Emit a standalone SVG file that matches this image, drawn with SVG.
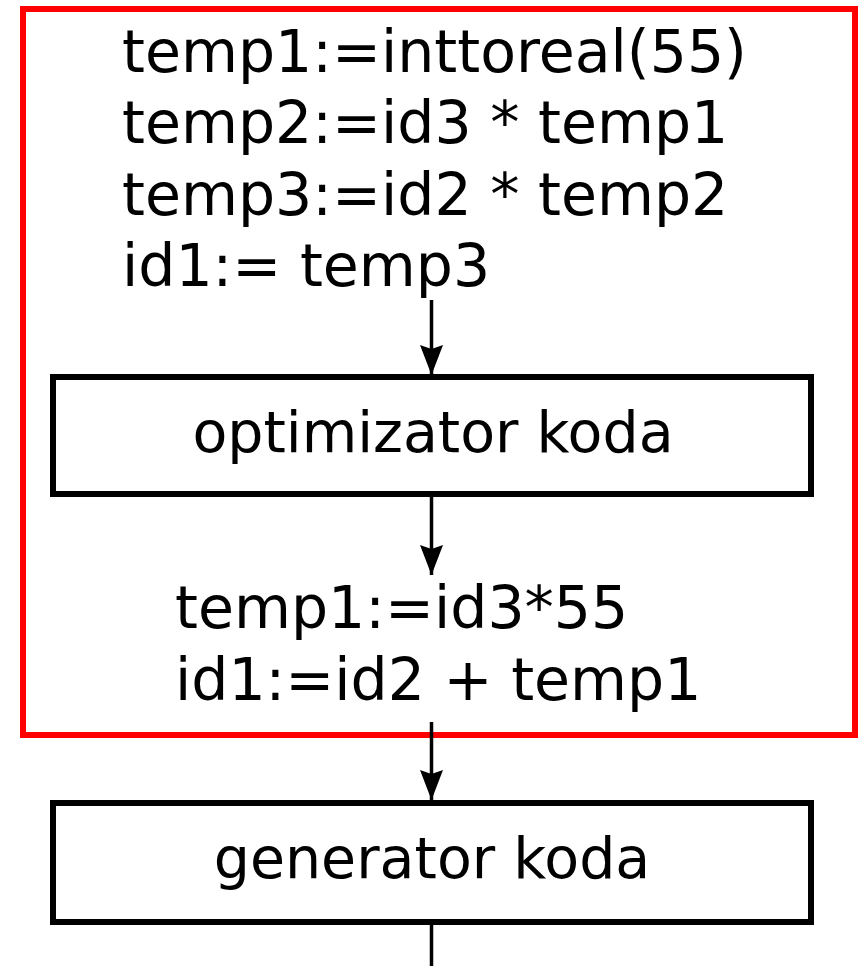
<svg xmlns="http://www.w3.org/2000/svg" width="858" height="966" viewBox="0 0 858 966">
  <style>
    .lbl { font-family: Verdana, "DejaVu Sans", sans-serif; fill: #000; }
    .code { font-size: 58.5px; }
    .name { font-size: 57px; text-anchor: middle; }
    .box { fill: #fff; stroke: #000; stroke-width: 6; }
    .frame { fill: none; stroke: #ff0000; stroke-width: 6; }
    .edge { fill: none; stroke: #000; stroke-width: 3.5; }
  </style>
  <defs>
    <!-- filled arrowhead with a shallow notch, tip at the line end -->
    <marker id="arrow" markerUnits="userSpaceOnUse" markerWidth="32" markerHeight="26" viewBox="-31 -13 32 26" refX="0" refY="0" orient="auto">
      <path d="M0,0 L-30,-11.5 L-26,0 L-30,11.5 Z" fill="#000"/>
    </marker>
  </defs>
  <rect width="858" height="966" fill="#fff"/>

  <!-- red frame around the optimization stage -->
  <g id="frame">
    <rect class="frame" x="23" y="9" width="832" height="726"/>
  </g>

  <!-- intermediate code -->
  <g id="code-in">
    <text class="lbl code" x="122" y="72">temp1:=inttoreal(55)</text>
    <text class="lbl code" x="122" y="143">temp2:=id3 * temp1</text>
    <text class="lbl code" x="122" y="215">temp3:=id2 * temp2</text>
    <text class="lbl code" x="122" y="286">id1:= temp3</text>
  </g>

  <g id="optimizer">
    <rect class="box" x="53" y="377" width="758" height="117"/>
    <text class="lbl name" x="433" y="452">optimizator koda</text>
  </g>

  <!-- optimized code -->
  <g id="code-out">
    <text class="lbl code" x="175" y="628">temp1:=id3*55</text>
    <text class="lbl code" x="175" y="700">id1:=id2 + temp1</text>
  </g>

  <g id="generator">
    <rect class="box" x="53" y="803" width="758" height="119"/>
    <text class="lbl name" x="432" y="878">generator koda</text>
  </g>

  <g id="connectors">
    <line class="edge" x1="431.5" y1="300" x2="431.5" y2="375" marker-end="url(#arrow)"/>
    <line class="edge" x1="431.5" y1="497" x2="431.5" y2="575" marker-end="url(#arrow)"/>
    <line class="edge" x1="431.5" y1="722" x2="431.5" y2="800" marker-end="url(#arrow)"/>
    <line class="edge" x1="431.5" y1="925" x2="431.5" y2="966"/>
  </g>
</svg>
